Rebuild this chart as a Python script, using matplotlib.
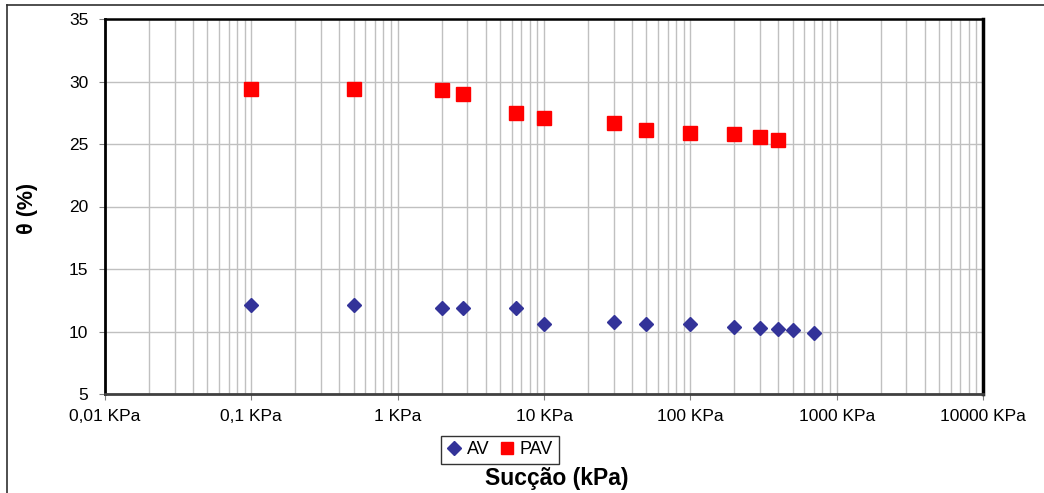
import matplotlib
matplotlib.use("Agg")
import matplotlib.pyplot as plt
from matplotlib.lines import Line2D
from matplotlib.ticker import FixedLocator, LogLocator, NullFormatter

plt.rcParams['font.family'] = ['Liberation Sans', 'DejaVu Sans']

# succao (kPa) e teor de umidade volumetrico (%)
suc_av = [0.1, 0.5, 2, 2.8, 6.4, 10, 30, 50, 100, 200, 300, 400, 500, 700]
theta_av = [12.1, 12.1, 11.9, 11.9, 11.9, 10.6, 10.8, 10.6, 10.6, 10.4, 10.3, 10.2, 10.1, 9.9]

suc_pav = [0.1, 0.5, 2, 2.8, 6.4, 10, 30, 50, 100, 200, 300, 400]
theta_pav = [29.4, 29.4, 29.3, 29.0, 27.45, 27.1, 26.7, 26.1, 25.9, 25.8, 25.6, 25.3]

x_ticks = [0.01, 0.1, 1, 10, 100, 1000, 10000]
x_labels = ["0,01 KPa", "0,1 KPa", "1 KPa", "10 KPa", "100 KPa", "1000 KPa", "10000 KPa"]
y_ticks = [5, 10, 15, 20, 25, 30, 35]

fig = plt.figure(figsize=(10.44, 4.93), dpi=100)
ax = fig.add_axes([105 / 1044, 1 - 394 / 493, 878 / 1044, 375 / 493])

ax.plot(suc_av, theta_av, linestyle='none', marker='D', markersize=7.6,
        color='#333399', label='AV', zorder=3)
ax.plot(suc_pav, theta_pav, linestyle='none', marker='s', markersize=10,
        color='#ff0000', label='PAV', zorder=3)

ax.set_xscale('log')
ax.set_xlim(0.01, 10000)
ax.set_ylim(5, 35)
ax.xaxis.set_major_locator(FixedLocator(x_ticks))
ax.set_xticklabels(x_labels)
ax.xaxis.set_minor_locator(LogLocator(base=10, subs=range(2, 10), numticks=20))
ax.xaxis.set_minor_formatter(NullFormatter())
ax.set_yticks(y_ticks)

ax.grid(True, which='major', color='#c0c0c0', linewidth=1)
ax.grid(True, which='minor', axis='x', color='#c0c0c0', linewidth=1)
ax.set_axisbelow(True)

ax.tick_params(axis='both', which='major', direction='out', length=4,
               color='#808080', labelsize=12.5)
ax.tick_params(axis='y', pad=8)
ax.tick_params(axis='x', pad=7)
ax.tick_params(axis='x', which='minor', length=0)

for side in ['left', 'right', 'top']:
    ax.spines[side].set_color('black')
ax.spines['left'].set_linewidth(2)
ax.spines['right'].set_linewidth(2.5)
ax.spines['top'].set_linewidth(1.8)
ax.spines['bottom'].set_color('#404040')
ax.spines['bottom'].set_linewidth(2)

fig.text(27 / 1044, 1 - 208 / 493, "θ (%)", rotation=90, ha='center', va='center',
         fontsize=15.5, fontweight='bold')
fig.text(557 / 1044, 1 - 478 / 493, "Sucção (kPa)", ha='center', va='center',
         fontsize=16.5, fontweight='bold')

leg = fig.legend(handles=[Line2D([], [], linestyle='none', marker='D', markersize=7.5,
                                 color='#333399', label='AV'),
                          Line2D([], [], linestyle='none', marker='s', markersize=8.5,
                                 color='#ff0000', label='PAV')],
                 loc='center', bbox_to_anchor=(500 / 1044, 1 - 450 / 493), ncol=2,
                 fontsize=13, frameon=True, fancybox=False, handlelength=0.8,
                 handletextpad=0.3, columnspacing=0.6, borderpad=0.3,
                 borderaxespad=0)
leg.get_frame().set_edgecolor('black')
leg.get_frame().set_linewidth(1)

# moldura externa
fig.add_artist(Line2D([7 / 1044, 7 / 1044], [0, 1 - 5 / 493], color='#303030',
                      linewidth=1.2, transform=fig.transFigure))
fig.add_artist(Line2D([7 / 1044, 1], [1 - 5 / 493, 1 - 5 / 493], color='#303030',
                      linewidth=1.2, transform=fig.transFigure))

fig.savefig("out.png", dpi=100)
